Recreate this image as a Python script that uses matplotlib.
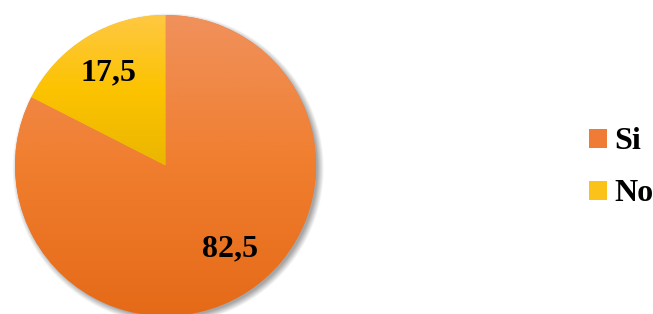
import numpy as np
import matplotlib.pyplot as plt
from matplotlib.colors import LinearSegmentedColormap

labels = ["Si", "No"]
values = [82.5, 17.5]
value_text = ["82,5", "17,5"]

# top -> bottom gradient colours of each slice
grad = {
    "Si": ["#F0915C", "#F07E2E", "#E56A18"],
    "No": ["#FFC844", "#FCC300", "#EAB600"],
}
legend_colors = ["#EF7B35", "#FBC21A"]

plt.rcParams["font.family"] = ["Liberation Serif", "DejaVu Serif"]
plt.rcParams["font.weight"] = "bold"

fig = plt.figure(figsize=(6.53, 3.14), dpi=100)
ax = fig.add_axes([15 / 653, -2 / 314, 301 / 653, 301 / 314])

# soft shadow
yy, xx = np.mgrid[-1.1:1.1:400j, -1.1:1.1:400j]
d = np.hypot(xx - 0.015, yy + 0.02)
a = np.clip((1.035 - d) / 0.045, 0, 1) * 0.35
shadow = np.zeros((400, 400, 4))
shadow[..., 3] = a
sh = ax.imshow(shadow, extent=[-1.1, 1.1, -1.1, 1.1], origin="lower", zorder=0)
sh.set_clip_on(False)

wedges, _ = ax.pie(values, startangle=90, counterclock=False, radius=1.0,
                   wedgeprops=dict(linewidth=0, edgecolor="none"))

for w, lab, col in zip(wedges, labels, legend_colors):
    w.set_facecolor(col)
    w.set_zorder(1)
    bb = w.get_path().get_extents(w.get_patch_transform())
    cmap = LinearSegmentedColormap.from_list(lab, grad[lab])
    g = np.linspace(0, 1, 256).reshape(-1, 1)
    im = ax.imshow(g, cmap=cmap, extent=[bb.x0, bb.x1, bb.y0, bb.y1],
                   aspect="auto", origin="upper", zorder=2)
    im.set_clip_path(w)

for w, txt, dist, dang in zip(wedges, value_text, [0.70, 0.72], [6, 0]):
    ang = np.deg2rad((w.theta1 + w.theta2) / 2 + dang)
    ax.text(dist * np.cos(ang), dist * np.sin(ang), txt, ha="center", va="center",
            fontsize=23, fontweight="bold", color="black", zorder=3)

ax.set_xlim(-1.0, 1.0)
ax.set_ylim(-1.0, 1.0)
ax.set_aspect("equal")
ax.axis("off")

handles = [plt.Rectangle((0, 0), 1, 1, facecolor=c, edgecolor="none") for c in legend_colors]
fig.legend(handles, labels, loc="center left", bbox_to_anchor=(589 / 653, 0.465),
           frameon=False, fontsize=23, handlelength=0.55, handleheight=0.55,
           handletextpad=0.25, labelspacing=0.72, borderpad=0, borderaxespad=0)

fig.savefig("out.png", dpi=100)
